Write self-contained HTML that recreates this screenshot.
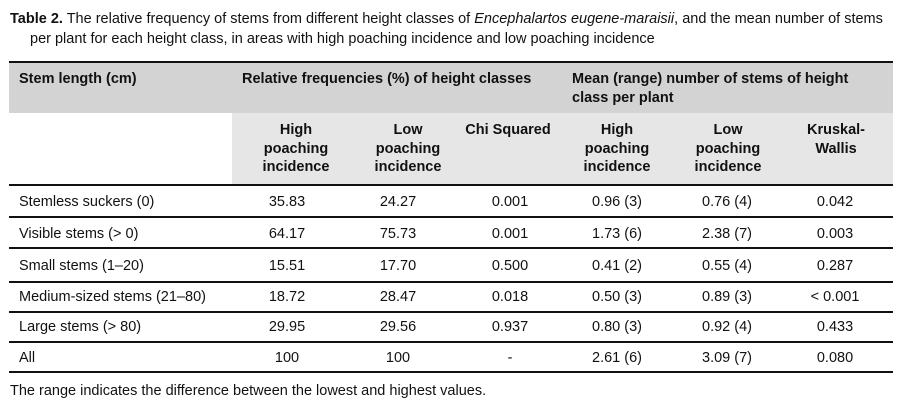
<!DOCTYPE html>
<html><head><meta charset="utf-8"><style>
body{margin:0;width:906px;height:419px;background:#fff;font-family:"Liberation Sans",sans-serif;color:#111;position:relative;overflow:hidden}
.a{position:absolute;white-space:nowrap}
.cap{font-size:14.5px;left:10px}
.h{font-weight:bold;font-size:14.5px;line-height:18.5px}
.c{text-align:center;transform:translateX(-50%)}
.d{font-size:14.5px}
.line{position:absolute;left:9px;width:884px;background:#111}
</style></head><body>
<div class="a cap" style="top:11px"><b>Table 2.</b> The relative frequency of stems from different height classes of <i>Encephalartos eugene-maraisii</i>, and the mean number of stems</div>
<div class="a cap" style="top:31px;left:30px">per plant for each height class, in areas with high poaching incidence and low poaching incidence</div>
<div class="a" style="left:9px;top:62px;width:884px;height:51px;background:#d3d3d3"></div>
<div class="a" style="left:232px;top:113px;width:661px;height:72px;background:#e6e6e7"></div>
<div class="line" style="top:61px;height:2px"></div>
<div class="line" style="top:184px;height:2px"></div>
<div class="line" style="top:216px;height:1.5px"></div>
<div class="line" style="top:247px;height:1.5px"></div>
<div class="line" style="top:281px;height:1.5px"></div>
<div class="line" style="top:311px;height:1.5px"></div>
<div class="line" style="top:341px;height:1.5px"></div>
<div class="line" style="top:371px;height:2px"></div>
<div class="a h" style="left:19px;top:70px">Stem length (cm)</div>
<div class="a h" style="left:242px;top:70px">Relative frequencies (%) of height classes</div>
<div class="a h" style="left:572px;top:70px">Mean (range) number of stems of height<br>class per plant</div>
<div class="a h c" style="left:296px;top:121px">High<br>poaching<br>incidence</div>
<div class="a h c" style="left:408px;top:121px">Low<br>poaching<br>incidence</div>
<div class="a h c" style="left:508px;top:121px">Chi Squared</div>
<div class="a h c" style="left:617px;top:121px">High<br>poaching<br>incidence</div>
<div class="a h c" style="left:728px;top:121px">Low<br>poaching<br>incidence</div>
<div class="a h c" style="left:836px;top:121px">Kruskal-<br>Wallis</div>

<div class="a d" style="left:19px;top:194px">Stemless suckers (0)</div>
<div class="a d" style="left:19px;top:226px">Visible stems (&gt; 0)</div>
<div class="a d" style="left:19px;top:258px">Small stems (1–20)</div>
<div class="a d" style="left:19px;top:289px">Medium-sized stems (21–80)</div>
<div class="a d" style="left:19px;top:319px">Large stems (&gt; 80)</div>
<div class="a d" style="left:19px;top:350px">All</div>

<div class="a d c" style="left:287px;top:194px">35.83</div>
<div class="a d c" style="left:287px;top:226px">64.17</div>
<div class="a d c" style="left:287px;top:258px">15.51</div>
<div class="a d c" style="left:287px;top:289px">18.72</div>
<div class="a d c" style="left:287px;top:319px">29.95</div>
<div class="a d c" style="left:287px;top:350px">100</div>

<div class="a d c" style="left:398px;top:194px">24.27</div>
<div class="a d c" style="left:398px;top:226px">75.73</div>
<div class="a d c" style="left:398px;top:258px">17.70</div>
<div class="a d c" style="left:398px;top:289px">28.47</div>
<div class="a d c" style="left:398px;top:319px">29.56</div>
<div class="a d c" style="left:398px;top:350px">100</div>

<div class="a d c" style="left:510px;top:194px">0.001</div>
<div class="a d c" style="left:510px;top:226px">0.001</div>
<div class="a d c" style="left:510px;top:258px">0.500</div>
<div class="a d c" style="left:510px;top:289px">0.018</div>
<div class="a d c" style="left:510px;top:319px">0.937</div>
<div class="a d c" style="left:510px;top:350px">-</div>

<div class="a d c" style="left:617px;top:194px">0.96 (3)</div>
<div class="a d c" style="left:617px;top:226px">1.73 (6)</div>
<div class="a d c" style="left:617px;top:258px">0.41 (2)</div>
<div class="a d c" style="left:617px;top:289px">0.50 (3)</div>
<div class="a d c" style="left:617px;top:319px">0.80 (3)</div>
<div class="a d c" style="left:617px;top:350px">2.61 (6)</div>

<div class="a d c" style="left:727px;top:194px">0.76 (4)</div>
<div class="a d c" style="left:727px;top:226px">2.38 (7)</div>
<div class="a d c" style="left:727px;top:258px">0.55 (4)</div>
<div class="a d c" style="left:727px;top:289px">0.89 (3)</div>
<div class="a d c" style="left:727px;top:319px">0.92 (4)</div>
<div class="a d c" style="left:727px;top:350px">3.09 (7)</div>

<div class="a d c" style="left:835px;top:194px">0.042</div>
<div class="a d c" style="left:835px;top:226px">0.003</div>
<div class="a d c" style="left:835px;top:258px">0.287</div>
<div class="a d c" style="left:835px;top:289px">&lt; 0.001</div>
<div class="a d c" style="left:835px;top:319px">0.433</div>
<div class="a d c" style="left:835px;top:350px">0.080</div>

<div class="a d" style="left:10px;top:383px">The range indicates the difference between the lowest and highest values.</div>
</body></html>
